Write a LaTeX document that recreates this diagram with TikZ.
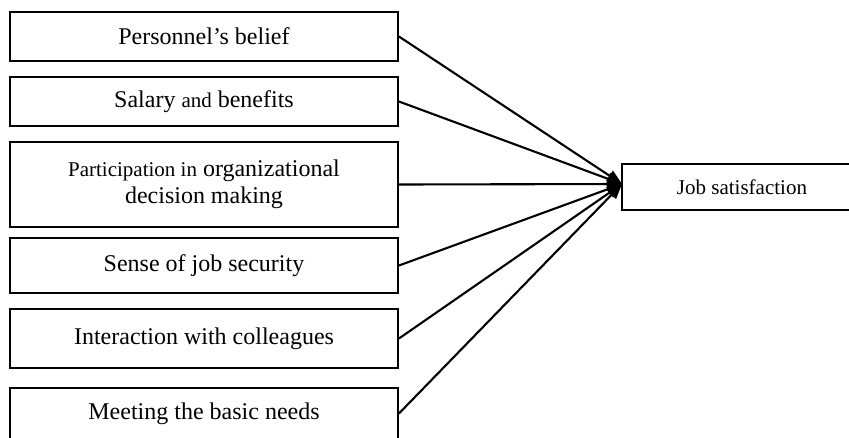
\documentclass[tikz,border=0pt]{standalone}
\usepackage{fontspec}
\setmainfont{Liberation Serif}
\usetikzlibrary{arrows.meta}
\begin{document}
\begin{tikzpicture}[x=1pt,y=-1pt,
  lbox/.style={draw, line width=1.9pt, minimum width=388pt, inner sep=0pt, align=center,
    font=\fontsize{24}{27}\selectfont},
  rbox/.style={draw, line width=1.9pt, minimum width=240pt, minimum height=46pt, inner sep=0pt,
    font=\fontsize{21}{24}\selectfont},
  conn/.style={line width=2.1pt, -{Triangle[length=15pt,width=12pt]}}]
\useasboundingbox (0,0) rectangle (849,437);
\node[lbox, minimum height=49pt] (b1) at (204,36.5) {Personnel’s belief};
\node[lbox, minimum height=49pt] (b2) at (204,101.5) {Salary {\fontsize{21}{24}\selectfont and} benefits};
\node[lbox, minimum height=85pt] (b3) at (204,184.5) {{\fontsize{21}{24}\selectfont Participation in} organizational\\decision making};
\node[lbox, minimum height=55pt] (b4) at (204,265.5) {Sense of job security};
\node[lbox, minimum height=59pt] (b5) at (204,338.5) {Interaction with colleagues};
\node[lbox, minimum height=51pt] (b6) at (204,413.5) {Meeting the basic needs};
\node[rbox] (js) at (742,187) {Job satisfaction};
\coordinate (tip) at (622,184);
\foreach \b in {b1,b2,b3,b4,b5,b6}{\draw[conn] (\b.east) -- (tip);}
\end{tikzpicture}
\end{document}
